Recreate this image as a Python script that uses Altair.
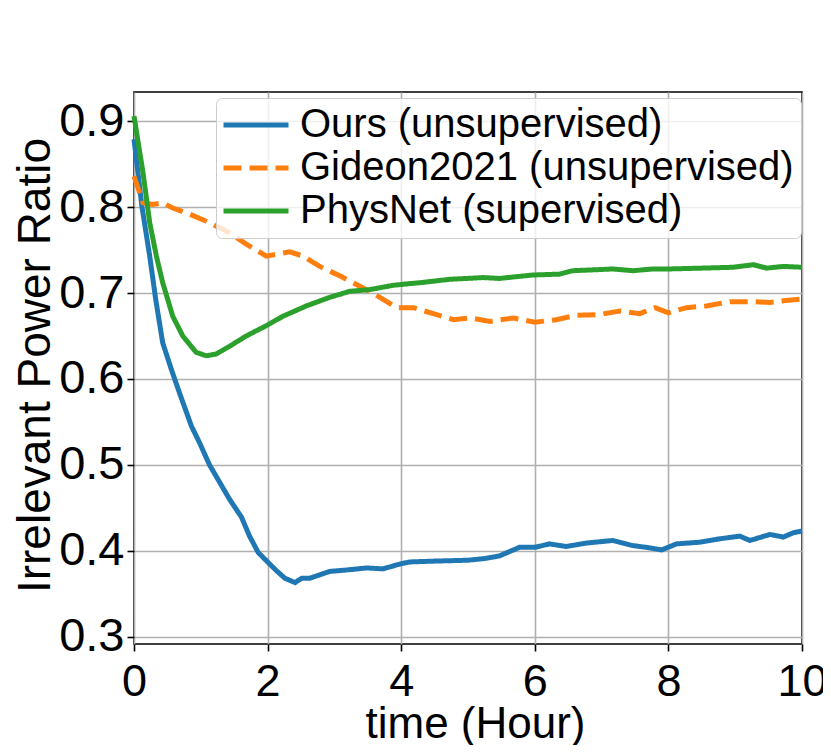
import altair as alt
import pandas as pd

names = ["Ours (unsupervised)", "Gideon2021 (unsupervised)", "PhysNet (supervised)"]
colors = ["#1f77b4", "#ff7f0e", "#2ca02c"]
dashes = [[1, 0], [18, 8], [1, 0]]

x_ticks = [0, 2, 4, 6, 8, 10]
y_ticks = [0.3, 0.4, 0.5, 0.6, 0.7, 0.8, 0.9]

ours_t = [0, 0.12, 0.235, 0.33, 0.43, 0.56, 0.68, 0.86, 0.98, 1.13, 1.28, 1.43, 1.61, 1.73, 1.86,
          2.0, 2.13, 2.26, 2.41, 2.51, 2.63, 2.93, 3.23, 3.48, 3.73, 4.0, 4.13, 4.5, 5.0, 5.25,
          5.47, 5.77, 6.0, 6.22, 6.47, 6.77, 7.17, 7.47, 7.67, 7.9, 8.12, 8.47, 8.77, 9.07, 9.22,
          9.52, 9.72, 9.87, 10.0]
ours_v = [0.879, 0.80, 0.743, 0.69, 0.642, 0.611, 0.584, 0.545, 0.526, 0.50, 0.48, 0.46, 0.439, 0.417, 0.398,
          0.387, 0.377, 0.368, 0.363, 0.368, 0.368, 0.376, 0.378, 0.380, 0.379, 0.385, 0.387, 0.388, 0.389, 0.391,
          0.394, 0.404, 0.404, 0.408, 0.405, 0.409, 0.412, 0.406, 0.404, 0.401, 0.408, 0.410, 0.414, 0.417, 0.412,
          0.419, 0.416, 0.421, 0.423]

gid_t = [0, 0.135, 0.28, 0.43, 0.58, 0.83, 1.13, 1.43, 1.68, 1.98, 2.13, 2.33, 2.53, 2.78, 3.08,
         3.38, 3.68, 3.93, 4.18, 4.48, 4.78, 5.03, 5.33, 5.68, 6.0, 6.32, 6.62, 6.97, 7.27, 7.57,
         7.8, 8.0, 8.27, 8.57, 8.92, 9.27, 9.52, 9.72, 10.0]
gid_v = [0.836, 0.805, 0.803, 0.805, 0.799, 0.792, 0.782, 0.770, 0.757, 0.743, 0.745, 0.748, 0.743, 0.731, 0.72,
         0.708, 0.695, 0.683, 0.683, 0.676, 0.669, 0.671, 0.667, 0.671, 0.666, 0.669, 0.674, 0.675, 0.679, 0.676,
         0.683, 0.677, 0.683, 0.685, 0.690, 0.690, 0.689, 0.691, 0.693]

phys_t = [0, 0.135, 0.235, 0.335, 0.43, 0.58, 0.73, 0.93, 1.08, 1.23, 1.43, 1.68, 1.98, 2.23, 2.58,
          2.93, 3.23, 3.53, 3.88, 4.13, 4.28, 4.73, 5.23, 5.47, 5.97, 6.37, 6.57, 7.17, 7.47, 7.77,
          8.0, 8.5, 8.97, 9.27, 9.47, 9.72, 10.0]
phys_v = [0.906, 0.84, 0.782, 0.743, 0.712, 0.673, 0.65, 0.631, 0.627, 0.629, 0.638, 0.65, 0.662, 0.673, 0.685,
          0.695, 0.702, 0.704, 0.709, 0.711, 0.712, 0.716, 0.718, 0.717, 0.721, 0.722, 0.726, 0.728, 0.726, 0.728,
          0.728, 0.729, 0.730, 0.733, 0.729, 0.731, 0.730]

rows = []
for idx, (ts, vs) in enumerate([(ours_t, ours_v), (gid_t, gid_v), (phys_t, phys_v)]):
    for t, v in zip(ts, vs):
        rows.append({"series": names[idx], "t": t, "v": v, "k": idx})
df = pd.DataFrame(rows)

FONT = "Liberation Sans"

legend = alt.Legend(
    title=None,
    orient="none",
    legendX=82,
    legendY=6,
    labelFont=FONT,
    labelFontSize=40,
    labelColor="black",
    labelLimit=1000,
    labelOffset=37,
    symbolType="M-1.5,0H3.5",
    symbolSize=676,
    symbolStrokeWidth=5,
    rowPadding=3,
    padding=7,
    fillColor="rgba(255,255,255,0.8)",
    strokeColor="#cccccc",
    cornerRadius=6,
)

chart = alt.Chart(df).mark_line(strokeWidth=5).encode(
    x=alt.X("t:Q",
            scale=alt.Scale(domain=[0, 10], nice=False, zero=False),
            axis=alt.Axis(values=x_ticks, format="d", title="time (Hour)",
                          labelFontSize=45, labelPadding=8, labelFlush=False, labelOverlap=False,
                          titleFontSize=44, titleBaseline="alphabetic", titleY=93, titleX=341)),
    y=alt.Y("v:Q",
            scale=alt.Scale(domain=[0.2915, 0.934], nice=False, zero=False),
            axis=alt.Axis(values=y_ticks, format=".1f", title="Irrelevant Power Ratio",
                          labelPadding=3, labelFlush=False, labelOverlap=False,
                          titleFontSize=46, titleAngle=270, titleBaseline="alphabetic",
                          titleAlign="center", titleX=-85, titleY=273)),
    color=alt.Color("series:N", scale=alt.Scale(domain=names, range=colors), legend=legend),
    strokeDash=alt.StrokeDash("series:N", scale=alt.Scale(domain=names, range=dashes), legend=legend),
    detail="k:N",
).properties(
    width=668,
    height=552,
    background="white",
    autosize=alt.AutoSizeParams(type="none"),
    padding={"left": 126, "top": 84, "right": 21, "bottom": 101},
).configure_view(
    stroke="black", strokeWidth=1.6
).configure_axis(
    labelFont=FONT, labelFontSize=47, labelColor="black",
    titleFont=FONT, titleFontSize=47, titleFontWeight="normal", titleColor="black",
    tickColor="black", tickSize=7, tickWidth=1.6, domain=False,
    grid=True, gridColor="#b0b0b0", gridWidth=1.6,
)

chart.save("out.html", embed_options={"renderer": "svg", "actions": False})
